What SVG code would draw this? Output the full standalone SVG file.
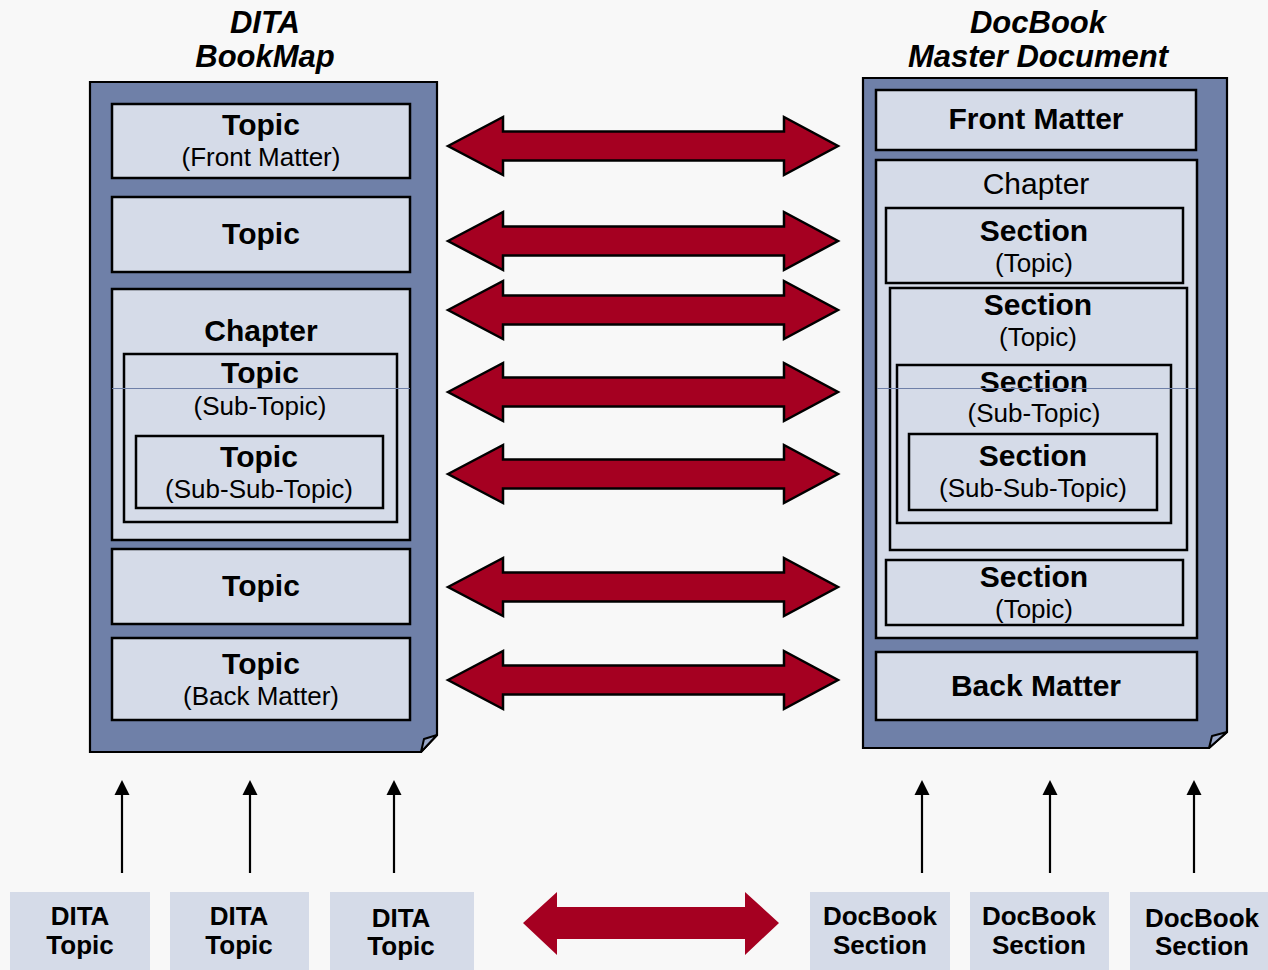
<svg xmlns="http://www.w3.org/2000/svg" width="1268" height="970" viewBox="0 0 1268 970">
  <defs>
    <style>
      .page { fill: #6f80a8; stroke: #000; stroke-width: 2.2; }
      .flap { fill: #9aa8c8; stroke: #000; stroke-width: 2; stroke-linejoin: round; }
      .box { fill: #d5dbe8; stroke: #000; stroke-width: 2.5; }
      .tile { fill: #d5dbe8; stroke: none; }
      .guide { stroke: #6f80a8; stroke-width: 1; }
      text { font-family: "Liberation Sans", Arial, sans-serif; text-anchor: middle; fill: #000; }
      .title { font-size: 31px; font-weight: bold; font-style: italic; }
      .lbl { font-size: 30px; font-weight: bold; }
      .sub { font-size: 26px; }
      .chap { font-size: 30px; }
      .foot { font-size: 26px; font-weight: bold; }
      .map { fill: #a50021; stroke: #000; stroke-width: 2.5; stroke-linejoin: miter; }
      .swap { fill: #a50021; stroke: none; }
      .up { stroke: #000; stroke-width: 2.2; fill: none; }
      .tip { fill: #000; }
    </style>
    <path id="dbl" d="M448,0 L503,-29 L503,-14.5 L784,-14.5 L784,-29 L838,0 L784,29 L784,14.5 L503,14.5 L503,29 Z"/>
    <g id="uparrow">
      <line class="up" x1="0" y1="873" x2="0" y2="793"/>
      <path class="tip" d="M-7.5,795 L0,780 L7.5,795 Z"/>
    </g>
  </defs>

  <rect width="1268" height="970" fill="#f8f8f8"/>

  <!-- headings -->
  <g id="heading-dita">
    <text class="title" x="265" y="33">DITA</text>
    <text class="title" x="265" y="67">BookMap</text>
  </g>
  <g id="heading-docbook">
    <text class="title" x="1038" y="33">DocBook</text>
    <text class="title" x="1038" y="67">Master Document</text>
  </g>

  <!-- DITA bookmap page -->
  <g id="bookmap">
    <path class="page" d="M90,82 H437 V735 L421,752 H90 Z"/>
    <path class="flap" d="M421,752 L424,739 L437,735 Z"/>
  </g>
  <g id="bm-front">
    <rect class="box" x="112" y="104" width="298" height="74"/>
    <text class="lbl" x="261" y="135">Topic</text>
    <text class="sub" x="261" y="166">(Front Matter)</text>
  </g>
  <g id="bm-topic1">
    <rect class="box" x="112" y="197" width="298" height="75"/>
    <text class="lbl" x="261" y="244">Topic</text>
  </g>
  <g id="bm-chapter">
    <rect class="box" x="112" y="289" width="298" height="251"/>
    <text class="lbl" x="261" y="341">Chapter</text>
  </g>
  <g id="bm-subtopic">
    <rect class="box" x="124" y="354" width="273" height="168"/>
    <text class="lbl" x="260" y="383">Topic</text>
    <text class="sub" x="260" y="415">(Sub-Topic)</text>
  </g>
  <g id="bm-subsubtopic">
    <rect class="box" x="136" y="436" width="247" height="72"/>
    <text class="lbl" x="259" y="467">Topic</text>
    <text class="sub" x="259" y="498">(Sub-Sub-Topic)</text>
  </g>
  <g id="bm-topic2">
    <rect class="box" x="112" y="549" width="298" height="75"/>
    <text class="lbl" x="261" y="596">Topic</text>
  </g>
  <g id="bm-back">
    <rect class="box" x="112" y="638" width="298" height="82"/>
    <text class="lbl" x="261" y="674">Topic</text>
    <text class="sub" x="261" y="705">(Back Matter)</text>
  </g>

  <!-- DocBook master document page -->
  <g id="master">
    <path class="page" d="M863,78 H1227 V732 L1209,748 H863 Z"/>
    <path class="flap" d="M1209,748 L1212,736 L1227,732 Z"/>
  </g>
  <g id="db-front">
    <rect class="box" x="876" y="90" width="320" height="60"/>
    <text class="lbl" x="1036" y="129">Front Matter</text>
  </g>
  <g id="db-chapter">
    <rect class="box" x="876" y="160" width="321" height="478"/>
    <text class="chap" x="1036" y="194">Chapter</text>
  </g>
  <g id="db-section1">
    <rect class="box" x="886" y="208" width="297" height="75"/>
    <text class="lbl" x="1034" y="241">Section</text>
    <text class="sub" x="1034" y="272">(Topic)</text>
  </g>
  <g id="db-section2">
    <rect class="box" x="890" y="288" width="297" height="262"/>
    <text class="lbl" x="1038" y="315">Section</text>
    <text class="sub" x="1038" y="346">(Topic)</text>
  </g>
  <g id="db-subsection">
    <rect class="box" x="897" y="365" width="274" height="158"/>
    <text class="lbl" x="1034" y="392">Section</text>
    <text class="sub" x="1034" y="422">(Sub-Topic)</text>
  </g>
  <g id="db-subsubsection">
    <rect class="box" x="909" y="434" width="248" height="76"/>
    <text class="lbl" x="1033" y="466">Section</text>
    <text class="sub" x="1033" y="497">(Sub-Sub-Topic)</text>
  </g>
  <g id="db-section3">
    <rect class="box" x="886" y="560" width="297" height="65"/>
    <text class="lbl" x="1034" y="587">Section</text>
    <text class="sub" x="1034" y="618">(Topic)</text>
  </g>
  <g id="db-back">
    <rect class="box" x="876" y="652" width="321" height="68"/>
    <text class="lbl" x="1036" y="696">Back Matter</text>
  </g>

  <!-- thin guide rule across both pages -->
  <g id="guide">
    <line class="guide" x1="112" y1="388.5" x2="410" y2="388.5"/>
    <line class="guide" x1="877" y1="388.5" x2="1196" y2="388.5"/>
  </g>

  <!-- source tiles -->
  <g id="dita-topic-1">
    <rect class="tile" x="10" y="892" width="140" height="78"/>
    <text class="foot" x="80" y="925">DITA</text>
    <text class="foot" x="80" y="954">Topic</text>
  </g>
  <g id="dita-topic-2">
    <rect class="tile" x="170" y="892" width="139" height="78"/>
    <text class="foot" x="239" y="925">DITA</text>
    <text class="foot" x="239" y="954">Topic</text>
  </g>
  <g id="dita-topic-3">
    <rect class="tile" x="330" y="892" width="144" height="78"/>
    <text class="foot" x="401" y="927">DITA</text>
    <text class="foot" x="401" y="955">Topic</text>
  </g>
  <g id="docbook-section-1">
    <rect class="tile" x="810" y="892" width="140" height="78"/>
    <text class="foot" x="880" y="925">DocBook</text>
    <text class="foot" x="880" y="954">Section</text>
  </g>
  <g id="docbook-section-2">
    <rect class="tile" x="970" y="892" width="139" height="78"/>
    <text class="foot" x="1039" y="925">DocBook</text>
    <text class="foot" x="1039" y="954">Section</text>
  </g>
  <g id="docbook-section-3">
    <rect class="tile" x="1130" y="892" width="138" height="78"/>
    <text class="foot" x="1202" y="927">DocBook</text>
    <text class="foot" x="1202" y="955">Section</text>
  </g>

  <!-- connectors -->
  <g id="connectors">
    <use href="#dbl" class="map" transform="translate(0,146)"/>
    <use href="#dbl" class="map" transform="translate(0,241)"/>
    <use href="#dbl" class="map" transform="translate(0,310)"/>
    <use href="#dbl" class="map" transform="translate(0,392)"/>
    <use href="#dbl" class="map" transform="translate(0,474)"/>
    <use href="#dbl" class="map" transform="translate(0,587)"/>
    <use href="#dbl" class="map" transform="translate(0,680)"/>

    <path class="swap" d="M523,923 L557,892 L557,907 L745,907 L745,892 L779,923 L745,955 L745,939 L557,939 L557,955 Z"/>

    <use href="#uparrow" transform="translate(122,0)"/>
    <use href="#uparrow" transform="translate(250,0)"/>
    <use href="#uparrow" transform="translate(394,0)"/>
    <use href="#uparrow" transform="translate(922,0)"/>
    <use href="#uparrow" transform="translate(1050,0)"/>
    <use href="#uparrow" transform="translate(1194,0)"/>
  </g>
</svg>
